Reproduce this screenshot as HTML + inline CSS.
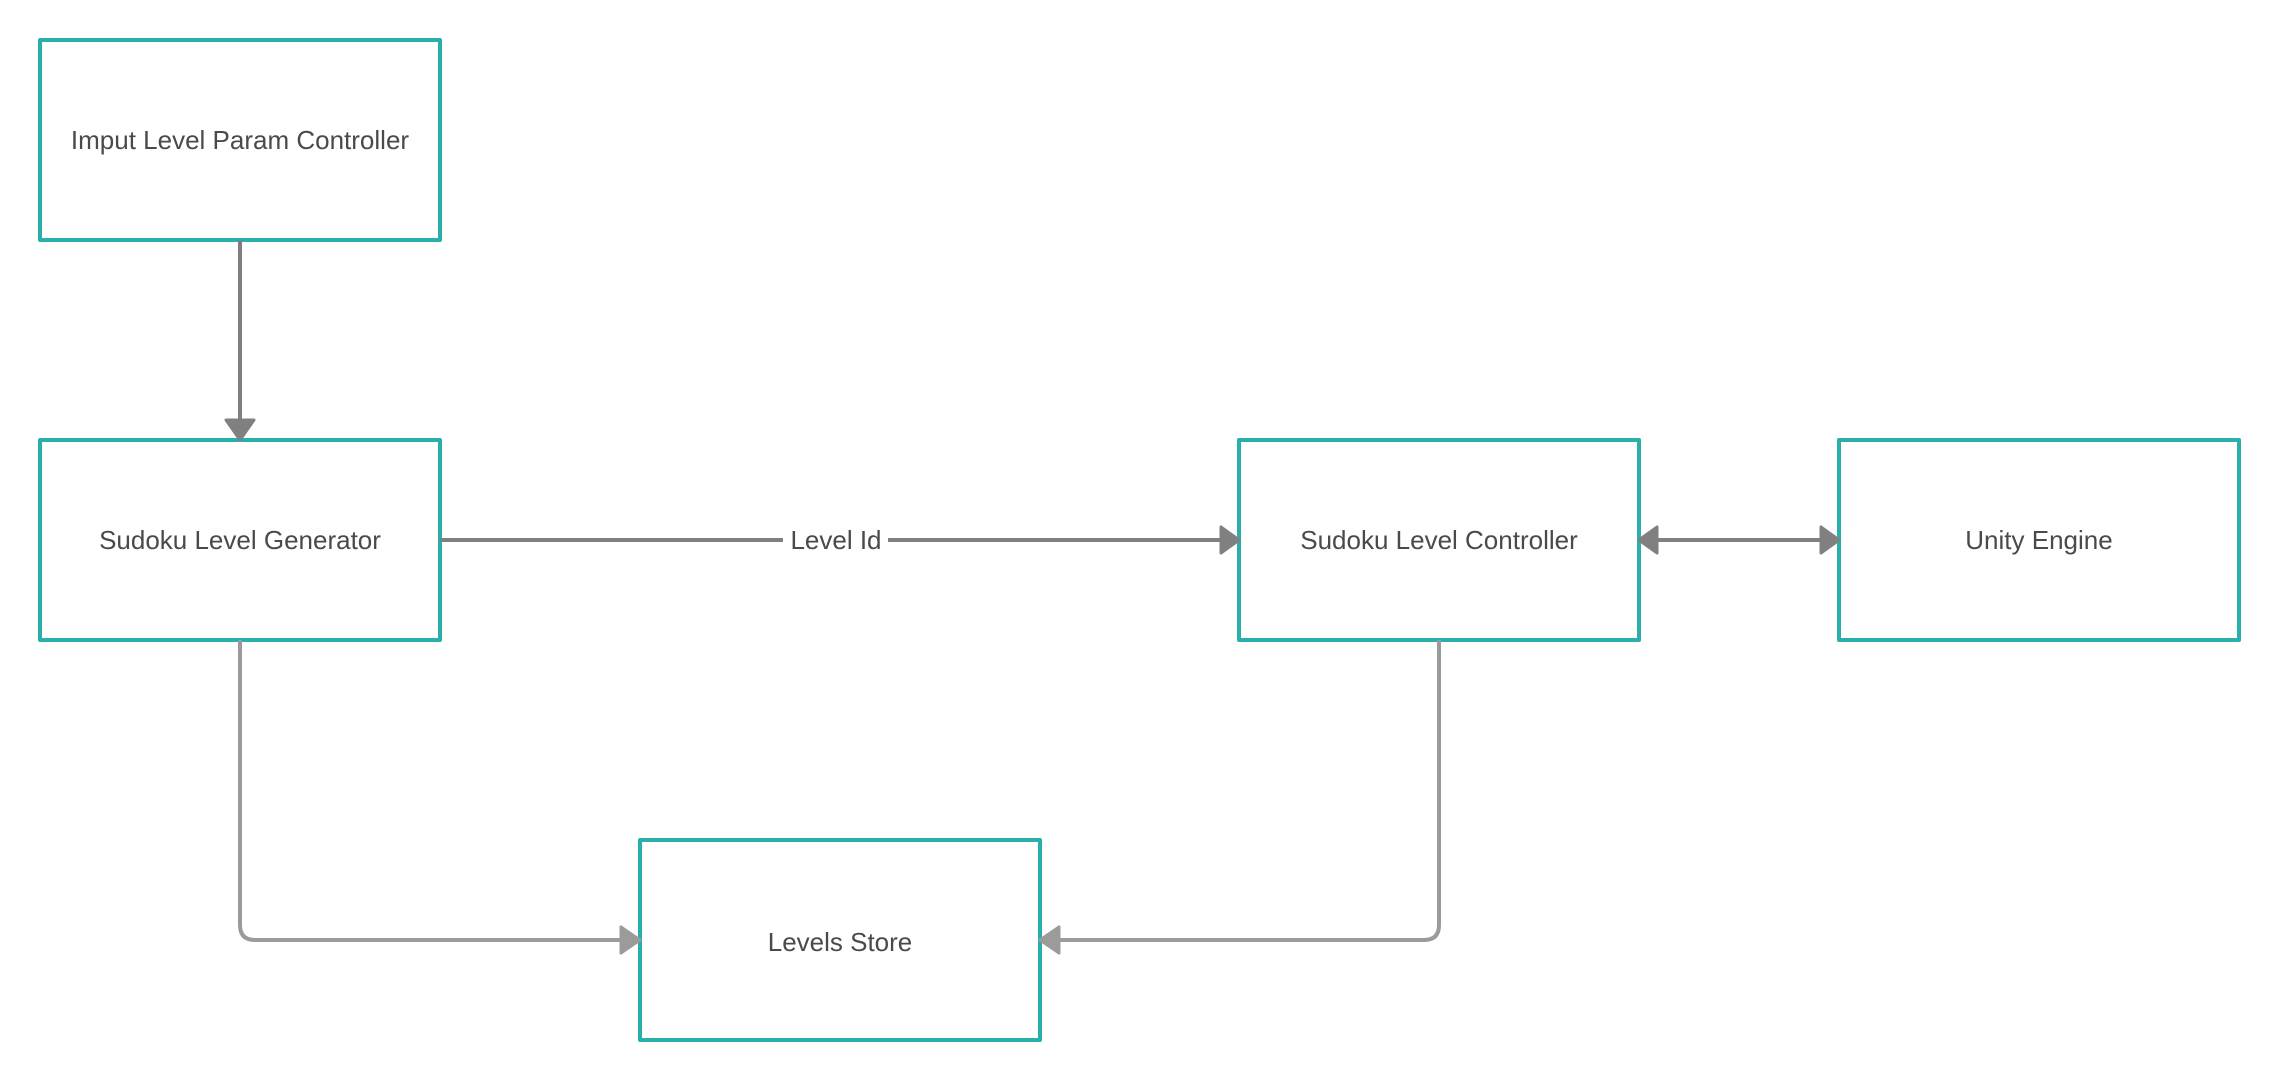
<!DOCTYPE html>
<html><head><meta charset="utf-8"><style>
html,body{margin:0;padding:0;background:#fff;}
svg{display:block;}
text{font-family:"Liberation Sans",sans-serif;font-size:26px;fill:#4a4a4a;}
</style></head><body>
<svg width="2280" height="1080" viewBox="0 0 2280 1080" xmlns="http://www.w3.org/2000/svg">
<g fill="#fff" stroke="#2aafab" stroke-width="4" stroke-linejoin="round">
<rect x="40" y="40" width="400" height="200"/>
<rect x="40" y="440" width="400" height="200"/>
<rect x="1239" y="440" width="400" height="200"/>
<rect x="1839" y="440" width="400" height="200"/>
<rect x="640" y="840" width="400" height="200"/>
</g>
<g stroke="#808080" stroke-width="4" fill="none">
<line x1="240" y1="240" x2="240" y2="422"/>
<line x1="440" y1="540" x2="783" y2="540"/>
<line x1="888" y1="540" x2="1220" y2="540"/>
<line x1="1658" y1="540" x2="1820" y2="540"/>
</g>
<g fill="#808080" stroke="#808080" stroke-width="3" stroke-linejoin="round">
<polygon points="226,420 254,420 240,440"/>
<polygon points="1221,527 1221,553 1239,540"/>
<polygon points="1657,527 1657,553 1639,540"/>
<polygon points="1821,527 1821,553 1839,540"/>
</g>
<g stroke="#9b9b9b" stroke-width="4" fill="none">
<path d="M240 640 V925 Q240 940 255 940 H622"/>
<path d="M1439 640 V925 Q1439 940 1424 940 H1058"/>
</g>
<g fill="#9b9b9b" stroke="#9b9b9b" stroke-width="3" stroke-linejoin="round">
<polygon points="621,927 621,953 640,940"/>
<polygon points="1059,927 1059,953 1040,940"/>
</g>
<g text-anchor="middle">
<text x="240" y="149">Imput Level Param Controller</text>
<text x="240" y="549">Sudoku Level Generator</text>
<text x="836" y="549">Level Id</text>
<text x="1439" y="549">Sudoku Level Controller</text>
<text x="2039" y="549">Unity Engine</text>
<text x="840" y="951">Levels Store</text>
</g>
</svg>
</body></html>
